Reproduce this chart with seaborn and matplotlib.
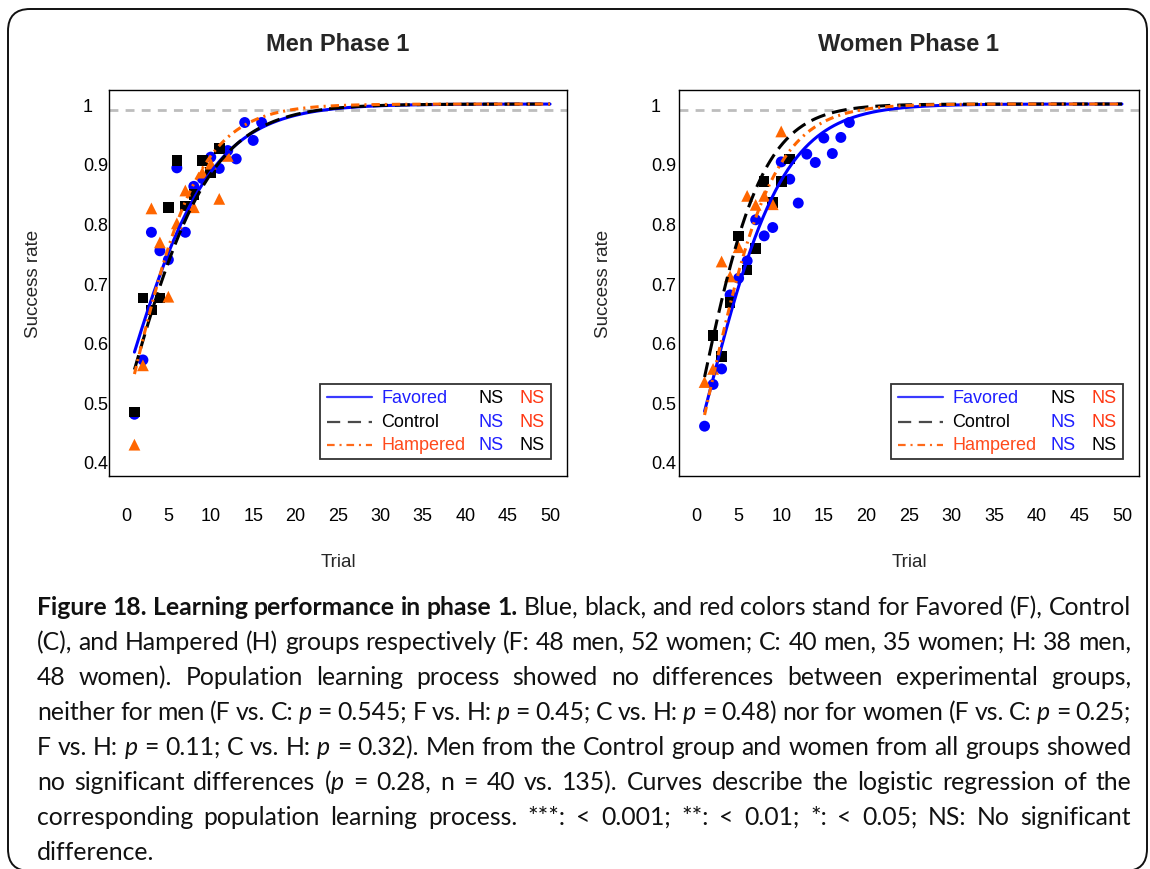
import numpy as np
import pandas as pd
import matplotlib
matplotlib.use("Agg")
import matplotlib.pyplot as plt
import seaborn as sns
from matplotlib.patches import FancyBboxPatch, Rectangle
from matplotlib.lines import Line2D

sns.set_theme(style="white")
plt.rcParams["font.family"] = ["Liberation Sans", "DejaVu Sans"]

GROUPS = ["Favored", "Control", "Hampered"]

# ---- Men, phase 1: mean success rate per trial ----
men_favored_trial = list(range(1, 17))
men_favored_rate = [0.480, 0.571, 0.785, 0.754, 0.739, 0.893, 0.785, 0.862,
                    0.875, 0.911, 0.892, 0.922, 0.908, 0.969, 0.939, 0.969]
men_control_trial = list(range(1, 12))
men_control_rate = [0.484, 0.675, 0.655, 0.675, 0.827, 0.905, 0.829, 0.848,
                    0.905, 0.885, 0.925]
men_hampered_trial = list(range(1, 13))
men_hampered_rate = [0.429, 0.562, 0.825, 0.768, 0.677, 0.800, 0.855, 0.827,
                     0.885, 0.900, 0.841, 0.913]

# ---- Women, phase 1: mean success rate per trial ----
women_favored_trial = list(range(1, 19))
women_favored_rate = [0.460, 0.530, 0.556, 0.680, 0.708, 0.737, 0.806, 0.779,
                      0.793, 0.903, 0.874, 0.834, 0.916, 0.902, 0.943, 0.917,
                      0.944, 0.969]
women_control_trial = [2, 3, 4, 5, 6, 7, 8, 9, 10, 11]
women_control_rate = [0.612, 0.577, 0.667, 0.779, 0.722, 0.758, 0.870, 0.835,
                      0.870, 0.908]
women_hampered_trial = list(range(1, 11))
women_hampered_rate = [0.534, 0.556, 0.736, 0.711, 0.760, 0.846, 0.831, 0.846,
                       0.832, 0.954]

# ---- Logistic regression fits: logit(rate) = intercept + slope * trial ----
men_fit_intercept = [0.15, 0.02, -0.05]
men_fit_slope = [0.19, 0.20, 0.24]
women_fit_intercept = [-0.28, -0.10, -0.34]
women_fit_slope = [0.22, 0.27, 0.255]

# Pairwise significance shown next to each group in the key
# (row group vs. the other two groups, coloured by the compared group)
men_sig_labels = [["NS", "NS"], ["NS", "NS"], ["NS", "NS"]]
women_sig_labels = [["NS", "NS"], ["NS", "NS"], ["NS", "NS"]]
sig_compared = [["Control", "Hampered"], ["Favored", "Hampered"], ["Favored", "Control"]]

criterion_rate = 0.99
x_ticks = [0, 5, 10, 15, 20, 25, 30, 35, 40, 45, 50]
y_ticks = [0.4, 0.5, 0.6, 0.7, 0.8, 0.9, 1.0]
y_tick_labels = ["0.4", "0.5", "0.6", "0.7", "0.8", "0.9", "1"]

# ---- styling ----
POINT_COLOR = {"Favored": "#0000ff", "Control": "#000000", "Hampered": "#ff6600"}
LINE_COLOR = {"Favored": "#0000ff", "Control": "#000000", "Hampered": "#ff6600"}
KEY_LINE_COLOR = {"Favored": "#3a3aff", "Control": "#4a4a4a", "Hampered": "#ff6a1a"}
TEXT_COLOR = {"Favored": "#1f1fff", "Control": "#000000", "Hampered": "#ff4a1c"}
SIG_COLOR = {"Favored": "#1f1fff", "Control": "#000000", "Hampered": "#ff3814"}
MARKER = {"Favored": "o", "Control": "s", "Hampered": "^"}
MSIZE = {"Favored": 62, "Control": 58, "Hampered": 72}
CURVE_LW = 2.2
DASHES = {"Favored": None, "Control": [10.8, 5.0], "Hampered": [6.0, 3.6, 1.5, 3.6]}

W, H = 1150, 870
fig = plt.figure(figsize=(W / 100, H / 100), dpi=100)
fig.patch.set_facecolor("white")


def px_box(x0, x1, ytop, ybot):
    return [x0 / W, 1 - ybot / H, (x1 - x0) / W, (ybot - ytop) / H]


ax_men = fig.add_axes(px_box(109, 567, 90.7, 477.3))
ax_women = fig.add_axes(px_box(679, 1139, 90.7, 477.3))


def draw_panel(ax, title, trials, rates, intercepts, slopes, sig_labels, ylab_pad):
    # mean success rate per trial
    for g, tr, rt in zip(GROUPS, trials, rates):
        df = pd.DataFrame({"Trial": tr, "Rate": rt})
        sns.scatterplot(data=df, x="Trial", y="Rate", ax=ax, marker=MARKER[g],
                        s=MSIZE[g], color=POINT_COLOR[g], edgecolor="none",
                        linewidth=0, legend=False, zorder=3)
    # fitted logistic curves
    grid = np.linspace(1, 50, 400)
    for g, a, b in zip(GROUPS, intercepts, slopes):
        fit = 1.0 / (1.0 + np.exp(-(a + b * grid)))
        n_before = len(ax.lines)
        sns.lineplot(x=grid, y=fit, ax=ax, color=LINE_COLOR[g], lw=CURVE_LW,
                     zorder=4, estimator=None, sort=False)
        line = ax.lines[n_before]
        if DASHES[g] is not None:
            line.set_dashes([d / CURVE_LW for d in DASHES[g]])
            line.set_dash_capstyle("butt")
    ax.axhline(criterion_rate, color="#bdbdbd", lw=2.0, dashes=(3.2, 2.6), zorder=1)

    ax.set_xlim(-2, 52)
    ax.set_ylim(0.376, 1.024)
    ax.set_xticks(x_ticks)
    ax.set_xticklabels([str(v) for v in x_ticks])
    ax.set_yticks(y_ticks)
    ax.set_yticklabels(y_tick_labels)
    ax.tick_params(axis="both", labelsize=13, length=0, colors="#000000")
    ax.tick_params(axis="x", pad=22)
    ax.tick_params(axis="y", pad=ylab_pad)
    for lab in ax.get_yticklabels():
        lab.set_horizontalalignment("left")
    for sp in ax.spines.values():
        sp.set_visible(True)
        sp.set_color("#000000")
        sp.set_linewidth(1.0)
    ax.set_xlabel("Trial", fontsize=13.5)
    ax.set_ylabel("Success rate", fontsize=13.5)
    ax.xaxis.set_label_coords(0.5, -0.198)
    ax.yaxis.set_label_coords(-0.146, 0.5)
    ax.set_title(title, fontsize=17, fontweight="bold", pad=28.6)

    # key with pairwise significance columns
    ax.add_patch(Rectangle((0.460, 0.045), 0.505, 0.194, transform=ax.transAxes,
                           facecolor="white", edgecolor="#333333", lw=1.3, zorder=5))
    rows_y = [0.204, 0.141, 0.082]
    for g, yy, sl, comp in zip(GROUPS, rows_y, sig_labels, sig_compared):
        ln = Line2D([0.476, 0.574], [yy, yy], transform=ax.transAxes,
                    color=KEY_LINE_COLOR[g], lw=1.6, zorder=6)
        if g == "Control":
            ln.set_dashes([9.5 / 1.6, 5.5 / 1.6])
        elif g == "Hampered":
            ln.set_dashes([5.5 / 1.6, 3.5 / 1.6, 1.5 / 1.6, 3.5 / 1.6])
        ax.add_line(ln)
        ax.text(0.594, yy, g, transform=ax.transAxes, fontsize=13,
                color=TEXT_COLOR[g], va="center", ha="left", zorder=6)
        for lab, cg, xx in zip(sl, comp, [0.807, 0.897]):
            ax.text(xx, yy, lab, transform=ax.transAxes, fontsize=13,
                    color=SIG_COLOR[cg], va="center", ha="left", zorder=6)


# tick-label pads in points (labels are left aligned)
draw_panel(ax_men, "Men Phase 1",
           [men_favored_trial, men_control_trial, men_hampered_trial],
           [men_favored_rate, men_control_rate, men_hampered_rate],
           men_fit_intercept, men_fit_slope, men_sig_labels, 26 * 0.72)
draw_panel(ax_women, "Women Phase 1",
           [women_favored_trial, women_control_trial, women_hampered_trial],
           [women_favored_rate, women_control_rate, women_hampered_rate],
           women_fit_intercept, women_fit_slope, women_sig_labels, 28 * 0.72)

# ---- rounded frame around the whole figure ----
frame = FancyBboxPatch((0.08, -0.02), 11.39, 8.62,
                       boxstyle="round,pad=0,rounding_size=0.22",
                       transform=fig.dpi_scale_trans, facecolor="none",
                       edgecolor="#111111", lw=1.4, zorder=0)
fig.add_artist(frame)

# ---- justified caption ----
# '§' toggles bold, '¦' toggles italic
caption_lines = [
    "§Figure 18. Learning performance in phase 1.§ Blue, black, and red colors stand for Favored (F), Control",
    "(C), and Hampered (H) groups respectively (F: 48 men, 52 women; C: 40 men, 35 women; H: 38 men,",
    "48 women). Population learning process showed no differences between experimental groups,",
    "neither for men (F vs. C: ¦p¦ = 0.545; F vs. H: ¦p¦ = 0.45; C vs. H: ¦p¦ = 0.48) nor for women (F vs. C: ¦p¦ = 0.25;",
    "F vs. H: ¦p¦ = 0.11; C vs. H: ¦p¦ = 0.32). Men from the Control group and women from all groups showed",
    "no significant differences (¦p¦ = 0.28, n = 40 vs. 135). Curves describe the logistic regression of the",
    "corresponding population learning process. ***: < 0.001; **: < 0.01; *: < 0.05; NS: No significant",
    "difference.",
]
CAP_X0, CAP_X1 = 37, 1131
CAP_BASE0, CAP_STEP = 615, 35
CAP_FS = 20.0
CAP_FONT = "Lato"


def parse_words(line):
    words = []
    state = {"bold": False, "italic": False, "buf": "", "word": []}

    def flush():
        if state["buf"]:
            state["word"].append((state["buf"], state["bold"], state["italic"]))
            state["buf"] = ""

    for ch in line:
        if ch == "§":
            flush()
            state["bold"] = not state["bold"]
        elif ch == "¦":
            flush()
            state["italic"] = not state["italic"]
        elif ch == " ":
            flush()
            if state["word"]:
                words.append(state["word"])
                state["word"] = []
        else:
            state["buf"] += ch
    flush()
    if state["word"]:
        words.append(state["word"])
    return words


fig.canvas.draw()
renderer = fig.canvas.get_renderer()

cap_artists = []
for li, line in enumerate(caption_lines):
    words = parse_words(line)
    arts = []
    for w in words:
        wa = []
        for txt, b, it in w:
            t = fig.text(0, 0, txt, fontsize=CAP_FS, family=CAP_FONT,
                         fontweight="bold" if b else "normal",
                         fontstyle="italic" if it else "normal",
                         color="#111111", ha="left", va="baseline")
            wa.append(t)
        arts.append(wa)
    cap_artists.append(arts)


def measure(arts):
    return [[t.get_window_extent(renderer).width for t in wa] for wa in arts]


# pick the caption size so that the densest justified line just fits
avail = CAP_X1 - CAP_X0
space_em = 0.22
worst = 0.0
for li, arts in enumerate(cap_artists[:-1]):
    widths = measure(arts)
    natural = sum(sum(w) for w in widths) + space_em * CAP_FS * 100 / 72 * (len(arts) - 1)
    worst = max(worst, natural / avail)
fs = CAP_FS / worst
for arts in cap_artists:
    for wa in arts:
        for t in wa:
            t.set_fontsize(fs)

for li, arts in enumerate(cap_artists):
    widths = measure(arts)
    word_w = [sum(w) for w in widths]
    if li < len(cap_artists) - 1 and len(arts) > 1:
        gap = (avail - sum(word_w)) / (len(arts) - 1)
    else:
        gap = 0.226 * fs * 100 / 72
    y = 1 - (CAP_BASE0 + li * CAP_STEP) / H
    x = CAP_X0
    for wa, ws, tw in zip(arts, widths, word_w):
        xx = x
        for t, w in zip(wa, ws):
            t.set_position((xx / W, y))
            xx += w
        x += tw + gap

fig.savefig("out.png", dpi=100, facecolor="white")
